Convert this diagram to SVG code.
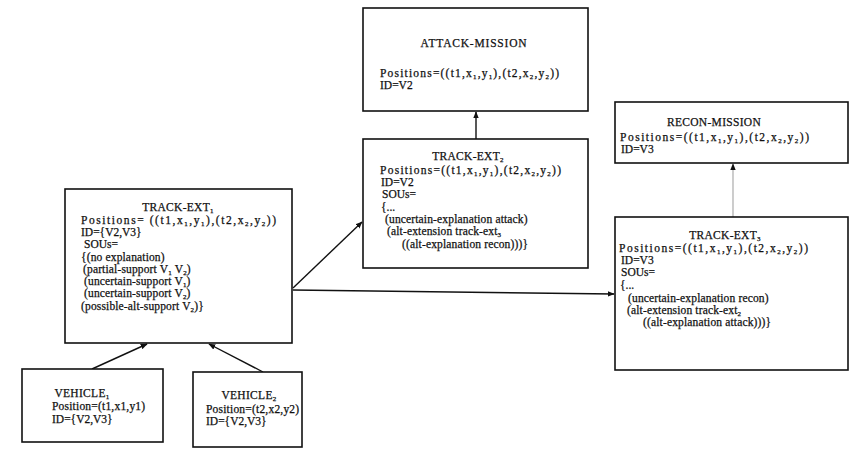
<svg xmlns="http://www.w3.org/2000/svg" width="852" height="451" viewBox="0 0 852 451">
  <style>
    .box { fill: #ffffff; stroke: #111; stroke-width: 1.6; }
    .edge { fill: none; stroke: #111; stroke-width: 1.4; }
    text { font-family: "Liberation Serif", "DejaVu Serif", serif; font-size: 11.5px; fill: #111; stroke: #111; stroke-width: 0.25; }
    .title { text-anchor: middle; }
    .sub { font-size: 7px; }
  </style>
  <defs>
    <marker id="arrow" viewBox="0 0 10 10" refX="9" refY="5" markerWidth="7" markerHeight="7" orient="auto" markerUnits="userSpaceOnUse">
      <path d="M0,1 L10,5 L0,9 z" fill="#111"/>
    </marker>
  </defs>
  <rect width="852" height="451" fill="#ffffff"/>

  <!-- connectors -->
  <g id="connectors">
    <line class="edge" x1="476" y1="139" x2="476" y2="112" marker-end="url(#arrow)"/>
    <line class="edge" x1="733" y1="217" x2="733" y2="164" marker-end="url(#arrow)" stroke-opacity="0.3"/>
    <line class="edge" x1="293" y1="288" x2="362" y2="222" marker-end="url(#arrow)"/>
    <line class="edge" x1="293" y1="290" x2="614" y2="294" marker-end="url(#arrow)"/>
    <line class="edge" x1="92" y1="369" x2="147" y2="344" marker-end="url(#arrow)"/>
    <line class="edge" x1="263" y1="372" x2="209" y2="344" marker-end="url(#arrow)"/>
  </g>

  <!-- ATTACK-MISSION -->
  <g id="attack-mission">
    <rect class="box" x="363" y="8" width="225" height="103"/>
    <text class="title" x="474" y="47" letter-spacing="0.8">ATTACK-MISSION</text>
    <text x="380" y="77" textLength="179" lengthAdjust="spacing">Positions=((t1,x<tspan class="sub" dy="2">1</tspan><tspan dy="-2">,y</tspan><tspan class="sub" dy="2">1</tspan><tspan dy="-2">),(t2,x</tspan><tspan class="sub" dy="2">2</tspan><tspan dy="-2">,y</tspan><tspan class="sub" dy="2">2</tspan><tspan dy="-2">))</tspan></text>
    <text x="380" y="89">ID=V2</text>
  </g>

  <!-- TRACK-EXT2 -->
  <g id="track-ext2">
    <rect class="box" x="363" y="139" width="225" height="129"/>
    <text class="title" x="468" y="160" letter-spacing="0.3">TRACK-EXT<tspan class="sub" dy="2">2</tspan></text>
    <text x="380" y="174" textLength="181" lengthAdjust="spacing">Positions=((t1,x<tspan class="sub" dy="2">1</tspan><tspan dy="-2">,y</tspan><tspan class="sub" dy="2">1</tspan><tspan dy="-2">),(t2,x</tspan><tspan class="sub" dy="2">2</tspan><tspan dy="-2">,y</tspan><tspan class="sub" dy="2">2</tspan><tspan dy="-2">))</tspan></text>
    <text x="381" y="186">ID=V2</text>
    <text x="382" y="198">SOUs=</text>
    <text x="381" y="211">{...</text>
    <text x="385" y="223" letter-spacing="0.15">(uncertain-explanation attack)</text>
    <text x="387" y="235" letter-spacing="0.15">(alt-extension track-ext<tspan class="sub" dy="2">3</tspan></text>
    <text x="402" y="248" letter-spacing="0.15">((alt-explanation recon)))}</text>
  </g>

  <!-- RECON-MISSION -->
  <g id="recon-mission">
    <rect class="box" x="615" y="102" width="233" height="61"/>
    <text class="title" x="714" y="126" letter-spacing="0.3">RECON-MISSION</text>
    <text x="620" y="141" textLength="189" lengthAdjust="spacing">Positions=((t1,x<tspan class="sub" dy="2">1</tspan><tspan dy="-2">,y</tspan><tspan class="sub" dy="2">1</tspan><tspan dy="-2">),(t2,x</tspan><tspan class="sub" dy="2">2</tspan><tspan dy="-2">,y</tspan><tspan class="sub" dy="2">2</tspan><tspan dy="-2">))</tspan></text>
    <text x="621" y="153">ID=V3</text>
  </g>

  <!-- TRACK-EXT3 -->
  <g id="track-ext3">
    <rect class="box" x="615" y="217" width="233" height="153"/>
    <text class="title" x="725" y="239" letter-spacing="0.3">TRACK-EXT<tspan class="sub" dy="2">3</tspan></text>
    <text x="619" y="252" textLength="189" lengthAdjust="spacing">Positions=((t1,x<tspan class="sub" dy="2">1</tspan><tspan dy="-2">,y</tspan><tspan class="sub" dy="2">1</tspan><tspan dy="-2">),(t2,x</tspan><tspan class="sub" dy="2">2</tspan><tspan dy="-2">,y</tspan><tspan class="sub" dy="2">2</tspan><tspan dy="-2">))</tspan></text>
    <text x="621" y="264">ID=V3</text>
    <text x="621" y="276">SOUs=</text>
    <text x="620" y="289">{...</text>
    <text x="628" y="302" letter-spacing="0.15">(uncertain-explanation recon)</text>
    <text x="627" y="314" letter-spacing="0.15">(alt-extension track-ext<tspan class="sub" dy="2">2</tspan></text>
    <text x="643" y="326" letter-spacing="0.15">((alt-explanation attack)))}</text>
  </g>

  <!-- TRACK-EXT1 -->
  <g id="track-ext1">
    <rect class="box" x="65" y="189" width="227" height="154"/>
    <text class="title" x="178" y="211" letter-spacing="0.3">TRACK-EXT<tspan class="sub" dy="2">1</tspan></text>
    <text x="81" y="224" textLength="195" lengthAdjust="spacing">Positions= ((t1,x<tspan class="sub" dy="2">1</tspan><tspan dy="-2">,y</tspan><tspan class="sub" dy="2">1</tspan><tspan dy="-2">),(t2,x</tspan><tspan class="sub" dy="2">2</tspan><tspan dy="-2">,y</tspan><tspan class="sub" dy="2">2</tspan><tspan dy="-2">))</tspan></text>
    <text x="81" y="236">ID={V2,V3}</text>
    <text x="84" y="248">SOUs=</text>
    <text x="81" y="261" letter-spacing="0.15">{(no explanation)</text>
    <text x="83" y="273" letter-spacing="0.15">(partial-support V<tspan class="sub" dy="2">1</tspan><tspan dy="-2"> V</tspan><tspan class="sub" dy="2">2</tspan><tspan dy="-2">)</tspan></text>
    <text x="84" y="285" letter-spacing="0.15">(uncertain-support V<tspan class="sub" dy="2">1</tspan><tspan dy="-2">)</tspan></text>
    <text x="84" y="297" letter-spacing="0.15">(uncertain-support V<tspan class="sub" dy="2">2</tspan><tspan dy="-2">)</tspan></text>
    <text x="81" y="310" letter-spacing="0.15">(possible-alt-support V<tspan class="sub" dy="2">2</tspan><tspan dy="-2">)}</tspan></text>
  </g>

  <!-- VEHICLE1 -->
  <g id="vehicle1">
    <rect class="box" x="22" y="369" width="141" height="73"/>
    <text class="title" x="82" y="397" letter-spacing="0.3">VEHICLE<tspan class="sub" dy="2">1</tspan></text>
    <text x="52" y="410" letter-spacing="0.2">Position=(t1,x1,y1)</text>
    <text x="52" y="423">ID={V2,V3}</text>
  </g>

  <!-- VEHICLE2 -->
  <g id="vehicle2">
    <rect class="box" x="193" y="372" width="109" height="75"/>
    <text class="title" x="249" y="399" letter-spacing="0.3">VEHICLE<tspan class="sub" dy="2">2</tspan></text>
    <text x="206" y="413" letter-spacing="0.2">Position=(t2,x2,y2)</text>
    <text x="206" y="425">ID={V2,V3}</text>
  </g>
</svg>
